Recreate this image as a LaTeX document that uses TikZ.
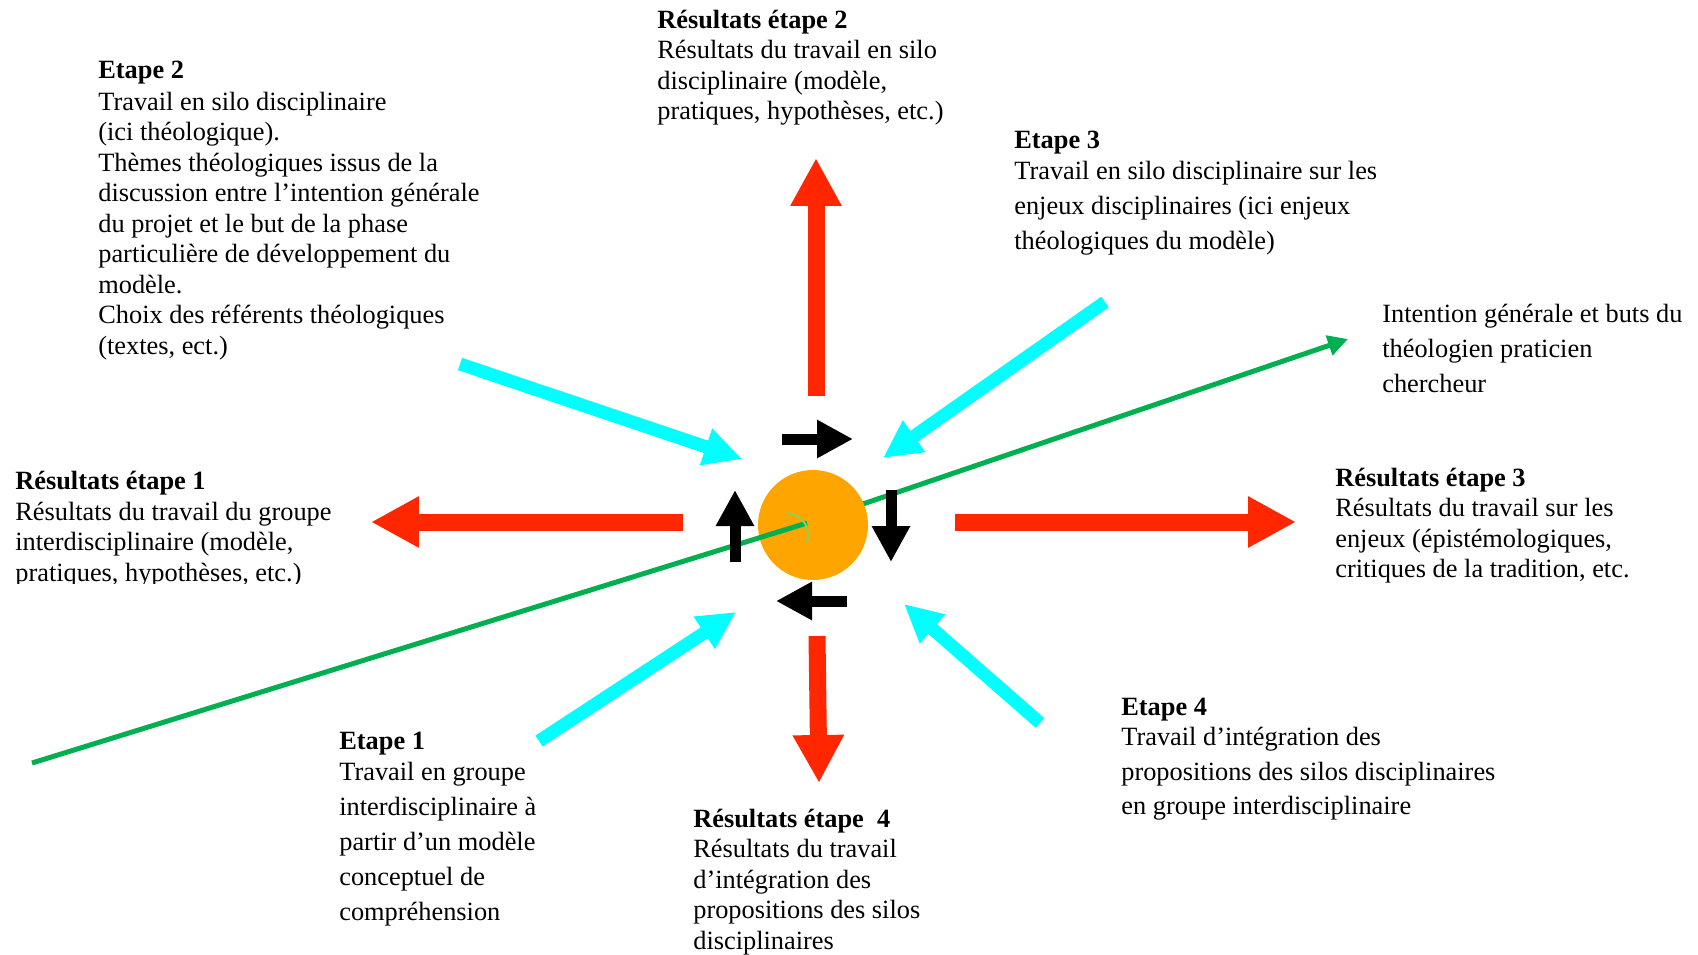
\documentclass[tikz,border=0pt]{standalone}
\usepackage{fontspec}
\setmainfont{Liberation Serif}
\usetikzlibrary{arrows.meta}

\definecolor{resred}{HTML}{FF2600}
\definecolor{stepcyan}{HTML}{00FFFF}
\definecolor{coreorange}{HTML}{FFA500}
\definecolor{aimgreen}{HTML}{00B050}
\definecolor{anglegreen}{HTML}{92D050}

\tikzstyle{resarrow}=[resred, line width=0.34cm, -{Triangle[length=0.96cm, width=0.96cm]}]
\tikzstyle{steparrow}=[stepcyan, line width=0.26cm, -{Triangle[length=0.76cm, width=0.72cm]}]
\tikzstyle{cyclearrow}=[black, line width=0.22cm, -{Triangle[length=0.72cm, width=0.72cm]}]
\tikzstyle{aimline}=[aimgreen, line width=0.1cm]
% text nodes are placed by the baseline of their last line
\tikzstyle{restext}=[anchor=base west, inner sep=0, align=left, font=\fontsize{15}{17.35}\selectfont]
\tikzstyle{steptext}=[anchor=base west, inner sep=0, align=left, font=\fontsize{15}{19.8}\selectfont]

\begin{document}
\begin{tikzpicture}[x=0.02cm, y=-0.02cm]
    \useasboundingbox (0,0) rectangle (1698,954);
% End points
    \coordinate (aimS) at (32,763);
    \coordinate (hub) at (807,523);
    \coordinate (aimE) at (1348,339);
    \coordinate (redUpS) at (816,396);    \coordinate (redUpE) at (816,158);
    \coordinate (redLeftS) at (683,522);  \coordinate (redLeftE) at (371,522);
    \coordinate (redRightS) at (955,522); \coordinate (redRightE) at (1296,522);
    \coordinate (redDownS) at (817,636);  \coordinate (redDownE) at (819,783);
    \coordinate (cyTLS) at (460,364);     \coordinate (cyTLE) at (742,459);
    \coordinate (cyTRS) at (1105,302);    \coordinate (cyTRE) at (883,458);
    \coordinate (cyBLS) at (539,741);     \coordinate (cyBLE) at (736,612);
    \coordinate (cyBRS) at (1040,723);    \coordinate (cyBRE) at (904,604);
    \coordinate (cyTopS) at (782,439);    \coordinate (cyTopE) at (853,439);
    \coordinate (cyRightS) at (891,490);  \coordinate (cyRightE) at (891,562);
    \coordinate (cyBotS) at (847,601);    \coordinate (cyBotE) at (776,601);
    \coordinate (cyLeftS) at (735,562);   \coordinate (cyLeftE) at (735,490);
% Aim, behind the core
    \draw[aimline, -{Triangle[length=0.4cm, width=0.4cm]}] (hub) -- (aimE);
% Core
    \node[circle, fill=coreorange, minimum size=2.2cm, inner sep=0] (core) at (813,525) {};
    \draw[aimline] (aimS) -- (hub);
    \draw[anglegreen, line width=0.04cm] (788,513) arc[start angle=-85, end angle=21, radius=22];
% Cycle
    \draw[cyclearrow] (cyTopS) -- (cyTopE);
    \draw[cyclearrow] (cyRightS) -- (cyRightE);
    \draw[cyclearrow] (cyBotS) -- (cyBotE);
    \draw[cyclearrow] (cyLeftS) -- (cyLeftE);
% Results
    \draw[resarrow] (redUpS) -- (redUpE);
    \draw[resarrow] (redLeftS) -- (redLeftE);
    \draw[resarrow] (redRightS) -- (redRightE);
    \draw[resarrow] (redDownS) -- (redDownE);
% Steps
    \draw[steparrow] (cyTLS) -- (cyTLE);
    \draw[steparrow] (cyTRS) -- (cyTRE);
    \draw[steparrow] (cyBLS) -- (cyBLE);
    \draw[steparrow] (cyBRS) -- (cyBRE);
% Texts
    \node[restext] (step2) at (98,354) {\textbf{Etape 2}\\[0.8pt]
        Travail en silo disciplinaire\\
        (ici théologique).\\
        Thèmes théologiques issus de la\\
        discussion entre l’intention générale\\
        du projet et le but de la phase\\
        particulière de développement du\\
        modèle.\\
        Choix des référents théologiques\\
        (textes, ect.)};
    \node[restext] (res2) at (657,119.5) {\textbf{Résultats étape 2}\\
        Résultats du travail en silo\\
        disciplinaire (modèle,\\
        pratiques, hypothèses, etc.)};
    \node[steptext] (step3) at (1014,249.5) {\textbf{Etape 3}\\[-2pt]
        Travail en silo disciplinaire sur les\\
        enjeux disciplinaires (ici enjeux\\
        théologiques du modèle)};
    \node[steptext] (aim) at (1382,392.5) {Intention générale et buts du\\
        théologien praticien\\
        chercheur};
    \begin{scope}
        \clip (0,440) rectangle (400,583);
        \node[restext] (res1) at (15,581) {\textbf{Résultats étape 1}\\
            Résultats du travail du groupe\\
            interdisciplinaire (modèle,\\
            pratiques, hypothèses, etc.)};
    \end{scope}
    \node[restext] (res3) at (1335,577.7) {\textbf{Résultats étape 3}\\
        Résultats du travail sur les\\
        enjeux (épistémologiques,\\
        critiques de la tradition, etc.};
    \node[steptext] (step1) at (339,920) {\textbf{Etape 1}\\[-2pt]
        Travail en groupe\\
        interdisciplinaire à\\
        partir d’un modèle\\
        conceptuel de\\
        compréhension};
    \node[restext] (res4) at (693,949) {\textbf{Résultats étape\ \ 4}\\
        Résultats du travail\\
        d’intégration des\\
        propositions des silos\\
        disciplinaires};
    \node[steptext] (step4) at (1121,814.8) {\textbf{Etape 4}\\[-2.6pt]
        Travail d’intégration des\\
        propositions des silos disciplinaires\\
        en groupe interdisciplinaire};
\end{tikzpicture}
\end{document}
